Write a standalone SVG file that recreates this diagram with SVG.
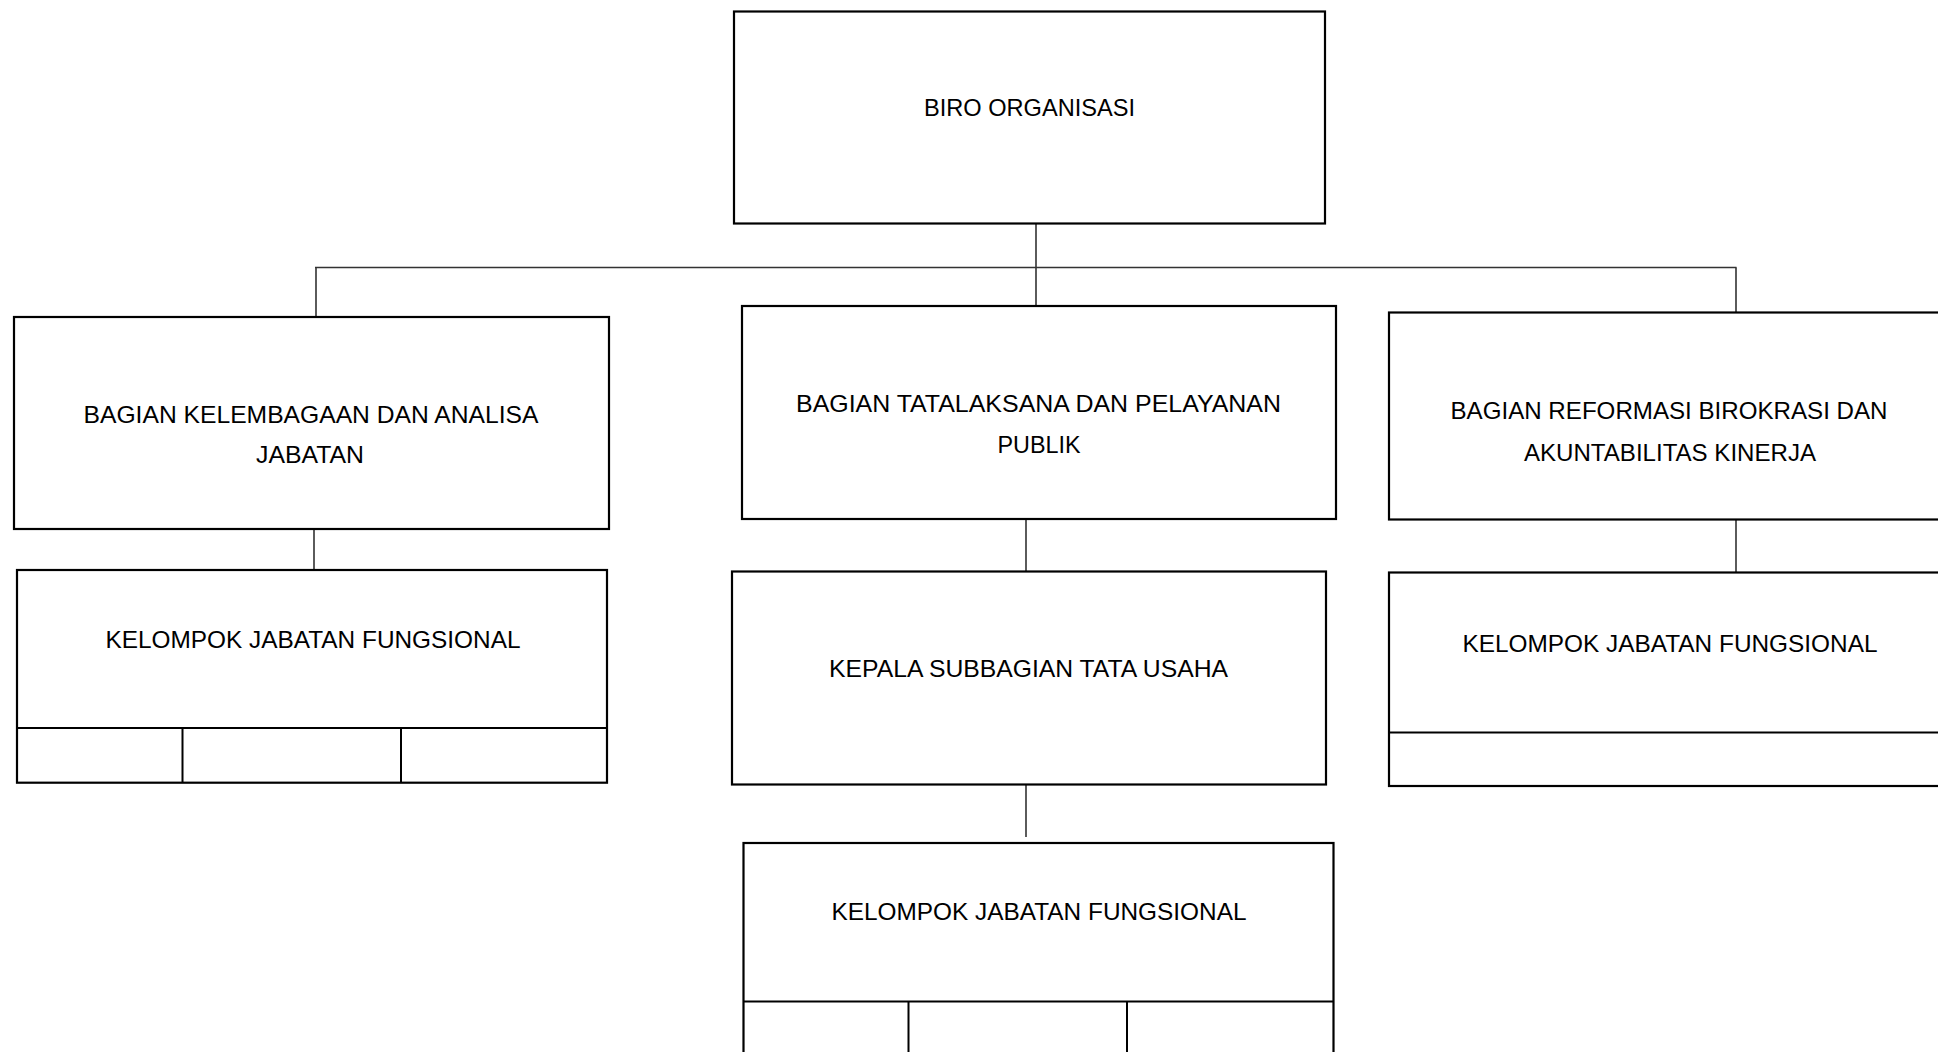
<svg xmlns="http://www.w3.org/2000/svg" width="1938" height="1052" viewBox="0 0 1938 1052">
<style>
.box{fill:#fff;stroke:#000;stroke-width:2.2}
.div{fill:none;stroke:#000;stroke-width:2}
.con{fill:none;stroke:#333;stroke-width:1.6}
.t{font-family:"Liberation Sans",Arial,sans-serif;font-size:24px;fill:#000;text-anchor:middle}
</style>
<rect width="1938" height="1052" fill="#fff"/>
<g id="connectors">
<path class="con" d="M1036 223.5V306"/>
<path class="con" d="M315 267.5H1736.5"/>
<path class="con" d="M316 267.5V317"/>
<path class="con" d="M1736 267.5V318"/>
<path class="con" d="M314 529V570"/>
<path class="con" d="M1026 519V571.5"/>
<path class="con" d="M1736 519.6V572.5"/>
<path class="con" d="M1026 784.5V837"/>
</g>
<g id="biro-organisasi">
<rect class="box" x="734" y="11.5" width="591" height="212"/>
<text class="t" x="1029.5" y="116" textLength="211" lengthAdjust="spacingAndGlyphs">BIRO ORGANISASI</text>
</g>
<g id="bagian-kelembagaan">
<rect class="box" x="14" y="317" width="595" height="212"/>
<text class="t" x="311" y="423" textLength="455" lengthAdjust="spacingAndGlyphs">BAGIAN KELEMBAGAAN DAN ANALISA</text>
<text class="t" x="310" y="463" textLength="108" lengthAdjust="spacingAndGlyphs">JABATAN</text>
</g>
<g id="kjf-kelembagaan">
<rect class="box" x="17" y="570" width="590" height="212.7"/>
<path class="div" d="M17 728H607M182.5 728V782.7M401 728V782.7"/>
<text class="t" x="313" y="648" textLength="415" lengthAdjust="spacingAndGlyphs">KELOMPOK JABATAN FUNGSIONAL</text>
</g>
<g id="bagian-tatalaksana">
<rect class="box" x="742" y="306" width="594" height="213"/>
<text class="t" x="1038.5" y="412" textLength="485" lengthAdjust="spacingAndGlyphs">BAGIAN TATALAKSANA DAN PELAYANAN</text>
<text class="t" x="1039" y="453" textLength="83" lengthAdjust="spacingAndGlyphs">PUBLIK</text>
</g>
<g id="kepala-subbagian">
<rect class="box" x="732" y="571.5" width="594" height="213"/>
<text class="t" x="1028.5" y="677" textLength="399" lengthAdjust="spacingAndGlyphs">KEPALA SUBBAGIAN TATA USAHA</text>
</g>
<g id="kjf-tatalaksana">
<rect class="box" x="743.5" y="843" width="590" height="230"/>
<path class="div" d="M743.5 1001.5H1333.5M908.5 1001.5V1060M1127 1001.5V1060"/>
<text class="t" x="1039" y="920" textLength="415" lengthAdjust="spacingAndGlyphs">KELOMPOK JABATAN FUNGSIONAL</text>
</g>
<g id="bagian-reformasi">
<rect class="box" x="1389" y="312.5" width="562" height="207"/>
<text class="t" x="1669" y="419" textLength="437" lengthAdjust="spacingAndGlyphs">BAGIAN REFORMASI BIROKRASI DAN</text>
<text class="t" x="1670" y="461" textLength="292" lengthAdjust="spacingAndGlyphs">AKUNTABILITAS KINERJA</text>
</g>
<g id="kjf-reformasi">
<rect class="box" x="1389" y="572.5" width="562" height="213.5"/>
<path class="div" d="M1389 732.5H1951"/>
<text class="t" x="1670" y="652" textLength="415" lengthAdjust="spacingAndGlyphs">KELOMPOK JABATAN FUNGSIONAL</text>
</g>
</svg>
